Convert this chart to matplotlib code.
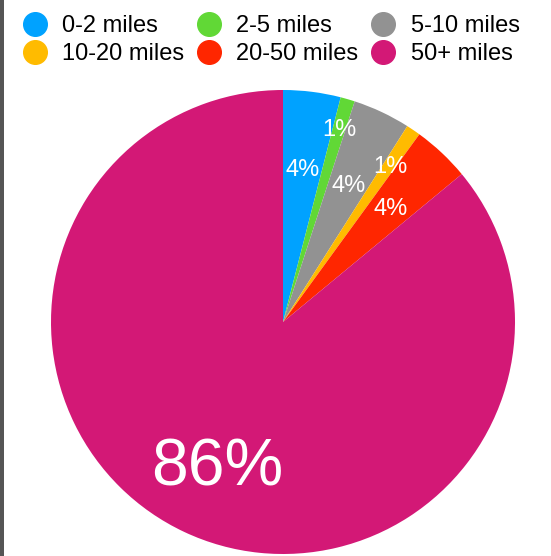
import numpy as np
import matplotlib
matplotlib.use("Agg")
import matplotlib.pyplot as plt
from matplotlib.lines import Line2D
from matplotlib.patches import Rectangle

categories = ["0-2 miles", "2-5 miles", "5-10 miles", "10-20 miles", "20-50 miles", "50+ miles"]
values = [4, 1, 4, 1, 4, 86]
labels = ["4%", "1%", "4%", "1%", "4%", "86%"]
colors = ["#00A2FF", "#61D836", "#929292", "#FFBB00", "#FF2600", "#D31876"]

plt.rcParams['font.family'] = ['Liberation Sans', 'DejaVu Sans']

W, H = 551, 556
fig = plt.figure(figsize=(W / 100, H / 100), dpi=100)
fig.patch.set_facecolor("white")

# left dark strip
fig.add_artist(Rectangle((0, 0), 4 / W, 1, transform=fig.transFigure,
                         facecolor="#555555", edgecolor="none"))

cx, cy, r = 283, 322, 232
ax = fig.add_axes([(cx - r) / W, (H - cy - r) / H, 2 * r / W, 2 * r / H])
wedges, _ = ax.pie(values, colors=colors, startangle=90, counterclock=False,
                   radius=1, wedgeprops=dict(linewidth=0, antialiased=True))
ax.set_xlim(-1, 1)
ax.set_ylim(-1, 1)
ax.set_aspect("equal")
ax.axis("off")

label_dist = [0.67, 0.875, 0.66, 0.82, 0.68, 0.665]
for w, lab, v, d in zip(wedges, labels, values, label_dist):
    mid = np.deg2rad((w.theta1 + w.theta2) / 2)
    fs = 47.5 if v > 50 else 17
    ax.text(d * np.cos(mid), d * np.sin(mid), lab, color="white",
            ha="center", va="center_baseline", fontsize=fs)

handles = [Line2D([], [], marker="o", linestyle="none", markersize=17,
                  markerfacecolor=c, markeredgecolor=c) for c in colors]
order = [0, 3, 1, 4, 2, 5]
fs_leg = 17
fig.legend([handles[i] for i in order], [categories[i] for i in order],
           ncol=3, loc="upper left", bbox_to_anchor=(23 / W, 1 - 15 / H),
           frameon=False, fontsize=fs_leg, handletextpad=0.66,
           columnspacing=0.55, labelspacing=0.26, handlelength=1.0,
           borderaxespad=0, borderpad=0)

fig.savefig("out.png", dpi=100, facecolor="white")
